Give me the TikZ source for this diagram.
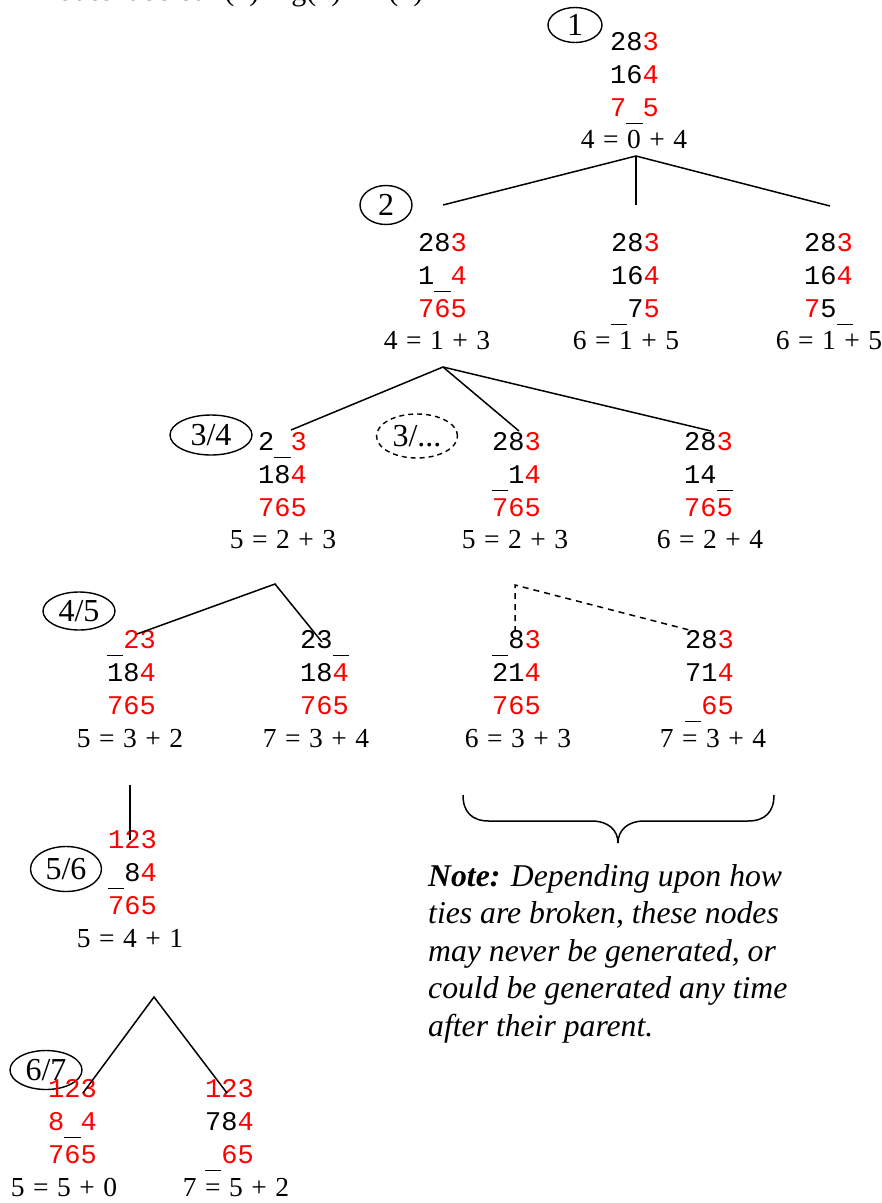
\documentclass[tikz,border=0pt]{standalone}
\usepackage{fontspec}
\setmainfont{Liberation Serif}
\newfontfamily\monof{Liberation Mono}
\usetikzlibrary{shapes.geometric}
\newcommand{\R}[1]{\textcolor{red}{#1}}
\newcommand{\U}{\makebox[0.6em][c]{\rule[-8pt]{0.6em}{1.3pt}}}
\newcommand{\pzl}[3]{\vtop{\baselineskip=33pt\hbox{#1}\hbox{#2}\hbox{#3}}}
\newcommand{\eqq}[3]{#1\hspace{8.5pt}=\hspace{8.5pt}#2\hspace{8.5pt}+\hspace{8.5pt}#3}
\begin{document}
\begin{tikzpicture}[x=1pt,y=-1pt,
  puzzle/.style={inner sep=0pt, anchor=base west, font=\monof\fontsize{27}{33}\selectfont},
  eqn/.style={inner sep=0pt, anchor=base, font=\fontsize{27.5}{33}\selectfont},
  lbl/.style={ellipse, draw, line width=1.4pt, inner sep=0pt, font=\fontsize{32}{36}\selectfont},
  edge/.style={line width=1.5pt}]
\useasboundingbox (0,0) rectangle (882,1203);

% cut-off caption at top
\node[anchor=base west, inner sep=0pt, font=\fontsize{30}{34}\selectfont] (cap) at (36,0.8) {Nodes labeled f(n) = g(n) + h(n)};

% labels
\node[lbl, minimum width=54pt, minimum height=35pt] (l1) at (575,25) {1};
\node[lbl, minimum width=52pt, minimum height=39pt] (l2) at (386,205) {2};
\node[lbl, minimum width=82pt, minimum height=40pt] (l3) at (211,435) {3/4};
\node[lbl, dashed, dash pattern=on 5pt off 4pt, minimum width=81pt, minimum height=44pt] (ld) at (417,436) {3/...};
\node[lbl, minimum width=72pt, minimum height=38pt] (l4) at (79,611) {4/5};
\node[lbl, minimum width=71pt, minimum height=45pt] (l5) at (66,869) {5/6};
\node[lbl, minimum width=72pt, minimum height=39pt] (l6) at (46,1070) {6/7};

% puzzle states
\node[puzzle] (s0) at (610,50) {\pzl{28\R{3}}{16\R{4}}{\R{7}\U\R{5}}};
\node[eqn] (e0) at (634,148) {\eqq{4}{0}{4}};

\node[puzzle] (sA) at (418,251) {\pzl{28\R{3}}{1\U\R{4}}{\R{765}}};
\node[eqn] (eA) at (437,349) {\eqq{4}{1}{3}};
\node[puzzle] (sB) at (611,251) {\pzl{28\R{3}}{16\R{4}}{\U7\R{5}}};
\node[eqn] (eB) at (626,349) {\eqq{6}{1}{5}};
\node[puzzle] (sC) at (804,251) {\pzl{28\R{3}}{16\R{4}}{\R{7}5\U}};
\node[eqn] (eC) at (829,349) {\eqq{6}{1}{5}};

\node[puzzle] (sD) at (258,450) {\pzl{2\U\R{3}}{18\R{4}}{\R{765}}};
\node[eqn] (eD) at (283,548) {\eqq{5}{2}{3}};
\node[puzzle] (sE) at (492,450) {\pzl{28\R{3}}{\U1\R{4}}{\R{765}}};
\node[eqn] (eE) at (515,548) {\eqq{5}{2}{3}};
\node[puzzle] (sF) at (684,450) {\pzl{28\R{3}}{14\U}{\R{765}}};
\node[eqn] (eF) at (710,548) {\eqq{6}{2}{4}};

\node[puzzle] (sG) at (107,648) {\pzl{\U\R{23}}{18\R{4}}{\R{765}}};
\node[eqn] (eG) at (130,747) {\eqq{5}{3}{2}};
\node[puzzle] (sH) at (300,648) {\pzl{23\U}{18\R{4}}{\R{765}}};
\node[eqn] (eH) at (316,747) {\eqq{7}{3}{4}};
\node[puzzle] (sI) at (492,648) {\pzl{\U8\R{3}}{21\R{4}}{\R{765}}};
\node[eqn] (eI) at (518,747) {\eqq{6}{3}{3}};
\node[puzzle] (sJ) at (685,648) {\pzl{28\R{3}}{71\R{4}}{\U\R{65}}};
\node[eqn] (eJ) at (713,747) {\eqq{7}{3}{4}};

\node[puzzle] (sK) at (108,848) {\pzl{\R{123}}{\U8\R{4}}{\R{765}}};
\node[eqn] (eK) at (130,947) {\eqq{5}{4}{1}};

\node[puzzle] (sL) at (48,1097) {\pzl{\R{123}}{\R{8}\U\R{4}}{\R{765}}};
\node[eqn] (eL) at (64,1196) {\eqq{5}{5}{0}};
\node[puzzle] (sM) at (205,1097) {\pzl{\R{123}}{78\R{4}}{\U\R{65}}};
\node[eqn] (eM) at (236,1196) {\eqq{7}{5}{2}};

% connector points
\coordinate (a0) at (636,156);
\coordinate (tA) at (443,205);
\coordinate (tB) at (636,205);
\coordinate (tC) at (830,206);
\coordinate (a1) at (443,367);
\coordinate (tD) at (291,430);
\coordinate (tE) at (519,431);
\coordinate (tF) at (711,431);
\coordinate (a2) at (275,584);
\coordinate (tG) at (137,634);
\coordinate (tH) at (322,642);
\coordinate (a3) at (515,585);
\coordinate (tI) at (515,632);
\coordinate (tJ) at (697,632);
\coordinate (a4) at (130,785);
\coordinate (tK) at (130,840);
\coordinate (a5) at (154,997);
\coordinate (tL) at (83,1093);
\coordinate (tM) at (227,1093);

\draw[edge] (tA) -- (a0) -- (tC);
\draw[edge] (a0) -- (tB);
\draw[edge] (tD) -- (a1) -- (tF);
\draw[edge] (a1) -- (tE);
\draw[edge] (tG) -- (a2) -- (tH);
\draw[edge, dash pattern=on 6pt off 5pt] (tI) -- (a3) -- (tJ);
\draw[edge] (a4) -- (tK);
\draw[edge] (tL) -- (a5) -- (tM);

% brace
\draw[edge] (463,795) .. controls (463,812) and (472,821) .. (489,821) -- (592,821)
  .. controls (608,821) and (618,830) .. (618,843)
  .. controls (618,830) and (628,821) .. (644,821) -- (748,821)
  .. controls (765,821) and (774,812) .. (774,795);

% note
\node[anchor=base west, inner sep=0pt, font=\fontsize{31.7}{37.5}\selectfont\itshape] (note) at (428,886)
  {\vtop{\baselineskip=37.5pt\hbox{\textbf{Note:} Depending upon how}\hbox{ties are broken, these nodes}\hbox{may never be generated, or}\hbox{could be generated any time}\hbox{after their parent.}}};
\end{tikzpicture}
\end{document}
